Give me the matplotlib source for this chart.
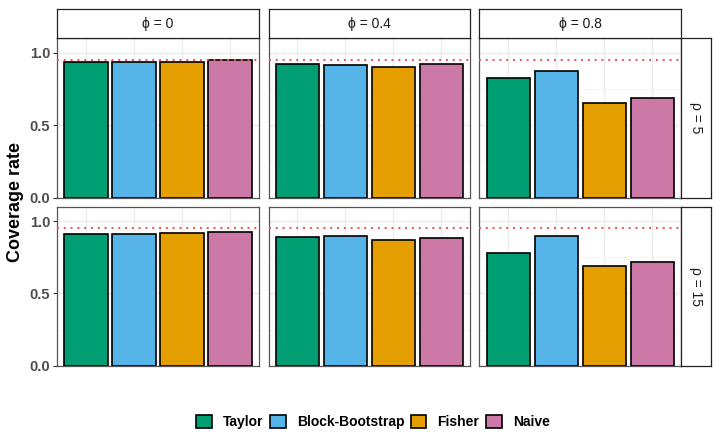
import numpy as np
import matplotlib.pyplot as plt
from matplotlib.patches import Patch, Rectangle

plt.rcParams['font.family'] = ['Liberation Sans', 'DejaVu Sans']

metodos = ["Taylor", "Block-Bootstrap", "Fisher", "Naive"]
colores = ["#009E73", "#56B4E9", "#E69F00", "#CC79A7"]
phis = ["0", "0.4", "0.8"]
rhos = ["5", "15"]

# coverage por fila (rho) y columna (phi)
cobertura = {
    ("5", "0"): [0.936, 0.934, 0.938, 0.952],
    ("5", "0.4"): [0.924, 0.915, 0.899, 0.920],
    ("5", "0.8"): [0.826, 0.874, 0.651, 0.690],
    ("15", "0"): [0.910, 0.912, 0.915, 0.922],
    ("15", "0.4"): [0.889, 0.898, 0.873, 0.885],
    ("15", "0.8"): [0.777, 0.898, 0.691, 0.719],
}
nivel = 0.95

W, H = 720, 447
fig = plt.figure(figsize=(W / 100, H / 100), dpi=100)

def caja(x0, y0, x1, y1):
    return [x0 / W, 1 - y1 / H, (x1 - x0) / W, (y1 - y0) / H]

cols_x = [(57.3, 258.7), (268.7, 470.0), (479.3, 681.3)]
filas_y = [(38.3, 197.7), (206.7, 365.7)]
pos = np.arange(1, len(metodos) + 1)

for i, rho in enumerate(rhos):
    for j, phi in enumerate(phis):
        x0, x1 = cols_x[j]
        y0, y1 = filas_y[i]
        ax = fig.add_axes(caja(x0, y0, x1, y1))
        ax.bar(pos, cobertura[(rho, phi)], width=0.9, color=colores,
               edgecolor="black", linewidth=1.2, zorder=3)
        ax.axhline(nivel, color="#F25050", linestyle=(0, (1, 2.5)), linewidth=1.4, zorder=4)
        ax.set_xlim(0.4, 4.6)
        ax.set_ylim(0, 1.1)
        ax.set_xticks(pos)
        ax.set_yticks([0, 0.5, 1.0])
        ax.set_yticks([0.25, 0.75], minor=True)
        ax.grid(True, which="major", color="#EBEBEB", linewidth=1.0, zorder=0)
        ax.grid(True, which="minor", axis="y", color="#F3F3F3", linewidth=0.6, zorder=0)
        ax.tick_params(axis="x", length=0, labelbottom=False)
        ax.tick_params(axis="y", which="minor", length=0)
        if j == 0:
            ax.set_yticklabels(["0.0", "0.5", "1.0"], fontsize=10.5, fontweight="bold", color="#4D4D4D")
            ax.tick_params(axis="y", which="major", length=3, color="#333333", pad=2)
        else:
            ax.tick_params(axis="y", which="major", length=0, labelleft=False)
        for s in ax.spines.values():
            s.set_color("#555555")
            s.set_linewidth(0.9)

        # tiras superiores
        if i == 0:
            sx = fig.add_axes(caja(x0, 9.0, x1, 38.3))
            sx.set_xticks([]); sx.set_yticks([])
            for s in sx.spines.values():
                s.set_color("#222222"); s.set_linewidth(0.9)
            sx.text(0.5, 0.5, "\u03d5 = " + phi, ha="center", va="center",
                    fontsize=10, color="#1A1A1A", transform=sx.transAxes)
        # tiras laterales
        if j == 2:
            sy = fig.add_axes(caja(681.3, y0, 711.0, y1))
            sy.set_xticks([]); sy.set_yticks([])
            for s in sy.spines.values():
                s.set_color("#222222"); s.set_linewidth(0.9)
            sy.text(0.5, 0.5, "\u03c1 = " + rho, ha="center", va="center", rotation=-90,
                    fontsize=10, color="#1A1A1A", transform=sy.transAxes)

fig.text(16 / W, 1 - 202 / H, "Coverage rate", rotation=90, ha="center", va="center",
         fontsize=13, fontweight="bold")

handles = [Patch(facecolor=c, edgecolor="black", linewidth=1.2) for c in colores]
leg = fig.legend(handles, metodos, loc="center", bbox_to_anchor=(373 / W, 1 - 422 / H),
                 ncol=4, frameon=False, handlelength=1.1, handleheight=1.1,
                 handletextpad=0.8, columnspacing=0.5,
                 prop={"weight": "bold", "size": 10})

fig.savefig("out.png", dpi=100)
